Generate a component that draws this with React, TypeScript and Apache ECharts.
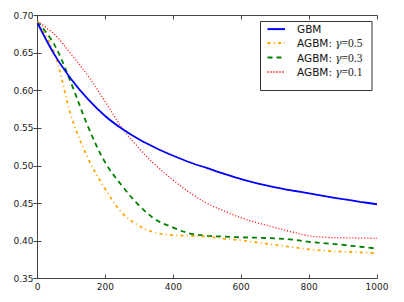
import React, { useEffect, useRef } from "react";
import * as echarts from "echarts";

const steps = [0, 50, 100, 150, 200, 250, 300, 350, 400, 450, 500, 550, 600, 650, 700, 750, 800, 850, 900, 950, 1000];
const gbm = [0.690, 0.648, 0.615, 0.588, 0.566, 0.549, 0.535, 0.5235, 0.5135, 0.5045, 0.497, 0.4895, 0.4825, 0.4765, 0.4715, 0.4673, 0.4635, 0.4595, 0.4558, 0.4523, 0.449];
const agbm05 = [0.692, 0.650, 0.565, 0.509, 0.469, 0.437, 0.420, 0.411, 0.408, 0.407, 0.406, 0.403, 0.401, 0.398, 0.395, 0.392, 0.389, 0.387, 0.386, 0.385, 0.384];
const agbm03 = [0.692, 0.661, 0.609, 0.551, 0.504, 0.473, 0.447, 0.428, 0.418, 0.410, 0.407, 0.406, 0.405, 0.4045, 0.4035, 0.402, 0.399, 0.397, 0.395, 0.3925, 0.390];
const agbm01 = [0.692, 0.675, 0.648, 0.619, 0.585, 0.550, 0.523, 0.500, 0.481, 0.464, 0.450, 0.440, 0.431, 0.424, 0.418, 0.412, 0.407, 0.405, 0.4045, 0.404, 0.4037];
const seriesNames = ["GBM", "AGBM: γ=0.5", "AGBM: γ=0.3", "AGBM: γ=0.1"];
const legendPrefix = ["GBM", "AGBM: ", "AGBM: ", "AGBM: "];
const legendGamma = ["", "0.5", "0.3", "0.1"];

const pairs = (vals: number[]) => steps.map((s, i) => [s, vals[i]]);

export default function App() {
  const ref = useRef<HTMLDivElement>(null);
  useEffect(() => {
    const chart = echarts.init(ref.current!, null, { renderer: "svg" });
    const axisColor = "#444";
    const tickFont = { fontFamily: "DejaVu Sans", fontSize: 9, color: "#222" };
    const grid = { left: 37.5, right: 27, top: 15.5, bottom: 23.3 };
    const xBase = {
      type: "value" as const,
      min: 0,
      max: 1000,
      interval: 200,
      splitLine: { show: false },
      axisLine: { lineStyle: { color: axisColor, width: 1 } },
      axisTick: { inside: true, length: 4, lineStyle: { color: axisColor } },
    };
    const yBase = {
      type: "value" as const,
      min: 0.35,
      max: 0.7,
      interval: 0.05,
      splitLine: { show: false },
      axisLine: { lineStyle: { color: axisColor, width: 1 } },
      axisTick: { inside: true, length: 4, lineStyle: { color: axisColor } },
    };
    const seriesStyles = [
      { color: "#0000ff", width: 1.8, type: "solid" as any },
      { color: "#ffa500", width: 1.8, type: [3, 3.3, 1, 3.3] },
      { color: "#008000", width: 1.8, type: [5, 4] },
      { color: "#ff0000", width: 1.3, type: [1, 2] },
    ];
    const datasets = [gbm, agbm05, agbm03, agbm01];
    chart.setOption({
      animation: false,
      grid,
      xAxis: [
        { ...xBase, position: "bottom", axisLabel: { ...tickFont, margin: 4, formatter: (v: number) => String(v) } },
        { ...xBase, position: "top", axisLabel: { show: false } },
      ],
      yAxis: [
        {
          ...yBase,
          position: "left",
          axisLabel: { ...tickFont, margin: 4, formatter: (v: number) => v.toFixed(2) },
        },
        { ...yBase, position: "right", axisLabel: { show: false } },
      ],
      legend: {
        orient: "vertical",
        left: 266.5,
        top: 23.5,
        padding: 0,
        itemWidth: 17.5,
        itemHeight: 14,
        itemGap: 2.4,
        itemStyle: { opacity: 0 },
        data: seriesNames,
        formatter: (name: string) => {
          const i = seriesNames.indexOf(name);
          if (i === 0) return `{a|${legendPrefix[0]}}`;
          return `{a|${legendPrefix[i]}}{g|γ}{b|=${legendGamma[i]}}`;
        },
        textStyle: {
          rich: {
            a: { fontFamily: "DejaVu Sans", fontSize: 10.5, color: "#111", padding: [0, 0, 0, 7], lineHeight: 14 },
            g: { fontFamily: "DejaVu Serif", fontStyle: "italic", fontSize: 10.5, color: "#222", lineHeight: 14 },
            b: { fontFamily: "Liberation Serif", fontSize: 11.5, color: "#222", lineHeight: 14 },
          },
        },
      },
      graphic: [
        {
          type: "rect",
          shape: { x: 260.5, y: 21.5, width: 111.5, height: 69 },
          style: { fill: "none", stroke: "#333", lineWidth: 1 },
          z: 100,
        },
      ],
      series: datasets.map((d, i) => ({
        name: seriesNames[i],
        type: "line",
        data: pairs(d),
        smooth: 0.35,
        symbol: "none",
        lineStyle: seriesStyles[i],
        itemStyle: { color: seriesStyles[i].color },
        z: 10 - i,
      })),
    });
    return () => chart.dispose();
  }, []);
  return (
    <div
      ref={ref}
      style={{ position: "fixed", left: 0, top: 0, width: 404, height: 302, background: "#fff" }}
    />
  );
}
